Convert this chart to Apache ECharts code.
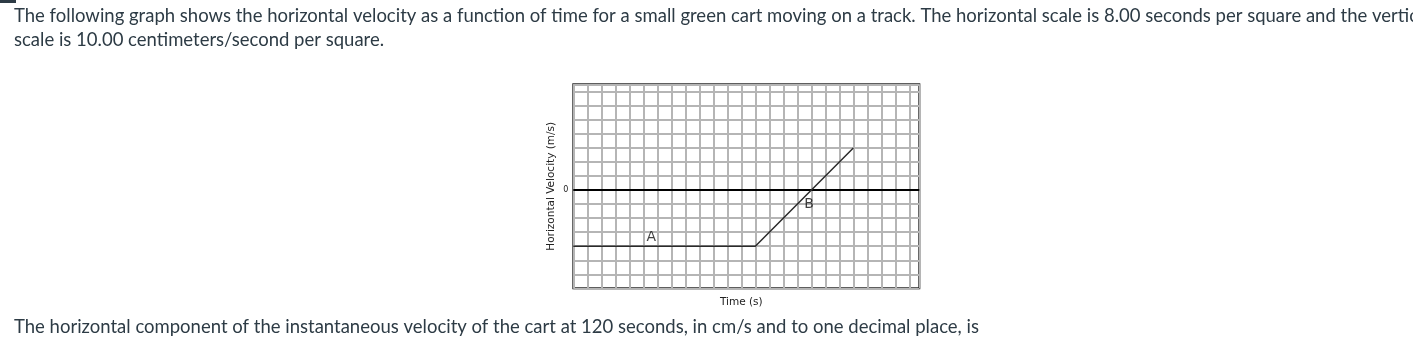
<!DOCTYPE html>
<html>
<head>
<meta charset="utf-8">
<script src="https://cdn.jsdelivr.net/npm/echarts@6/dist/echarts.min.js"></script>
<style>
html,body{margin:0;padding:0;background:#fff;overflow:hidden;}
#c{width:1413px;height:345px;}
</style>
</head>
<body>
<div id="c"></div>
<script>
// ---- data ----
const times = [0, 104, 160];          // s
const velocities = [-40, -40, 30];    // cm/s
const pointLabels = [
  { name: 'A', t: 44.5, v: -34 },
  { name: 'B', t: 134.7, v: -10 }
];
const yTickLabels = ['0'];
const questionTop1 = 'The following graph shows the horizontal velocity as a function of time for a small green cart moving on a track. The horizontal scale is 8.00 seconds per square and the vertical';
const questionTop2 = 'scale is 10.00 centimeters/second per square.';
const questionBottom = 'The horizontal component of the instantaneous velocity of the cart at 120 seconds, in cm/s and to one decimal place, is';
const xName = 'Time (s)';
const yName = 'Horizontal Velocity (m/s)';

const chart = echarts.init(document.getElementById('c'), null, { renderer: 'canvas' });
const textColor = '#2D3B45';
const pageFont = 'Lato, "Open Sans", sans-serif';

const option = {
  animation: false,
  backgroundColor: '#fff',
  grid: {
    left: 573.3, top: 84.3, width: 346, height: 204,
    show: true, borderColor: '#2a2a2a', borderWidth: 2, backgroundColor: 'transparent'
  },
  xAxis: {
    type: 'value', min: 0, max: 197.7, interval: 8,
    name: xName, nameLocation: 'middle', nameGap: 8,
    nameTextStyle: { fontFamily: 'DejaVu Sans', fontSize: 10.5, color: '#222', verticalAlign: 'top', padding: [0, 10, 0, 0] },
    axisLine: { show: false }, axisTick: { show: false }, axisLabel: { show: false },
    splitLine: { show: true, lineStyle: { color: '#b5b5b5', width: 2 } }
  },
  yAxis: {
    type: 'value', min: -70, max: 75.5, interval: 10,
    name: yName, nameLocation: 'middle', nameGap: 17, nameRotate: 90,
    nameTextStyle: { fontFamily: 'DejaVu Sans', fontSize: 10.5, color: '#222' },
    axisLine: { show: false }, axisTick: { show: false },
    axisLabel: {
      show: true, margin: 5, fontFamily: 'DejaVu Sans', fontSize: 8, color: '#222',
      formatter: function (v) { return yTickLabels.indexOf(String(v)) >= 0 ? String(v) : ''; }
    },
    splitLine: { show: true, lineStyle: { color: '#b5b5b5', width: 2 } }
  },
  graphic: [
    { type: 'rect', left: 0, top: 0, shape: { width: 16, height: 3 }, style: { fill: '#2D3B45' } },
    { type: 'text', left: 14, top: 7, style: { text: questionTop1, font: '18.5px ' + pageFont, fill: textColor } },
    { type: 'text', left: 14, top: 31, style: { text: questionTop2, font: '18.5px ' + pageFont, fill: textColor } },
    { type: 'text', left: 14, top: 318, style: { text: questionBottom, font: '18.5px ' + pageFont, fill: textColor } }
  ],
  series: [
    {
      type: 'line',
      data: times.map((t, i) => [t, velocities[i]]),
      symbol: 'none',
      lineStyle: { color: '#2a2a2a', width: 1.5 },
      z: 5,
      markLine: {
        silent: true, symbol: 'none', label: { show: false },
        lineStyle: { color: '#000', width: 2, type: 'solid' },
        data: [{ yAxis: 0 }]
      }
    },
    {
      type: 'scatter',
      data: pointLabels.map(p => ({ value: [p.t, p.v], name: p.name })),
      symbolSize: 0,
      z: 6,
      label: {
        show: true, position: 'inside', formatter: '{b}',
        fontFamily: 'DejaVu Sans', fontSize: 14, color: '#111'
      }
    }
  ]
};
chart.setOption(option);
</script>
</body>
</html>
